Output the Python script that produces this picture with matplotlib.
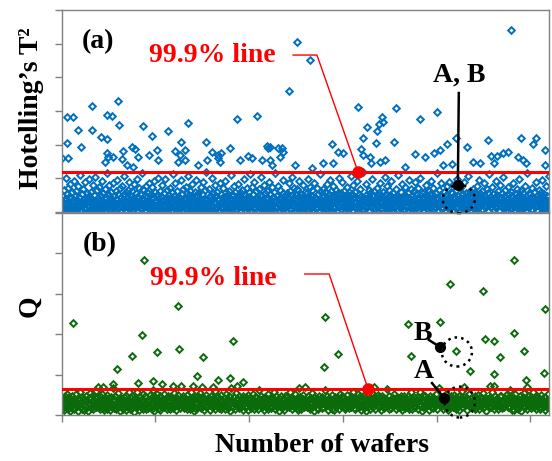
#!/usr/bin/env python3
"""Hotelling's T2 and Q charts per wafer, with 99.9% control limits."""

import numpy as np
import matplotlib

matplotlib.use("Agg")
import matplotlib.pyplot as plt
from matplotlib.patches import Ellipse

plt.rcParams["font.family"] = ["Liberation Serif", "DejaVu Serif"]
plt.rcParams["font.weight"] = "bold"

N_WAFERS = 2600
T2_LIMIT = 120
Q_LIMIT = 64

# bulk of the T2 values, in wafer order (evenly spaced over all wafers)
T2_BAND = [
    12, 34, 5, 47, 66, 21, 9, 38, 101, 27, 15, 52, 3, 71, 44, 18, 30, 84, 7, 25,
    41, 16, 58, 2, 29, 36, 93, 11, 48, 23, 62, 8, 19, 33, 77, 45, 14, 6, 110, 27,
    31, 4, 53, 20, 69, 13, 40, 26, 88, 10, 37, 1, 57, 22, 46, 17, 98, 35, 9, 43,
    24, 60, 15, 39, 7, 81, 28, 50, 12, 104, 33, 19, 2, 64, 42, 26, 11, 74, 36, 5,
    49, 18, 30, 92, 8, 55, 21, 14, 67, 38, 3, 45, 27, 115, 16, 52, 10, 79, 32, 23,
    6, 41, 59, 17, 35, 12, 86, 29, 47, 4, 22, 63, 39, 9, 95, 26, 54, 14, 31, 72,
    20, 44, 1, 37, 76, 25, 13, 51, 108, 34, 18, 58, 7, 43, 28, 65, 11, 36, 90, 15,
    39, 8, 48, 24, 61, 16, 33, 5, 83, 42, 27, 12, 56, 19, 99, 30, 2, 46, 70, 21,
    13, 52, 28, 9, 40, 117, 23, 68, 35, 15, 49, 4, 31, 78, 20, 44, 11, 57, 26, 87,
    32, 17, 6, 54, 25, 74, 38, 14, 45, 3, 91, 29, 60, 10, 36, 22, 50, 102, 18, 41,
    27, 63, 12, 47, 8, 33, 80, 21, 5, 55, 39, 16, 97, 30, 2, 43, 66, 24, 14, 51,
    10, 36, 71, 19, 44, 28, 3, 59, 113, 34, 17, 48, 25, 85, 7, 40, 22, 62, 31, 13,
    46, 23, 9, 38, 94, 15, 53, 29, 1, 67, 42, 20, 35, 11, 75, 27, 56, 6, 106, 33,
    18, 50, 37, 4, 61, 26, 14, 82, 45, 30, 8, 39, 21, 58, 16, 96, 34, 12, 47, 24,
    57, 7, 29, 43, 19, 73, 35, 10, 52, 2, 89, 31, 15, 64, 40, 25, 118, 9, 37, 20,
    28, 45, 13, 68, 34, 6, 48, 22, 100, 17, 41, 55, 3, 30, 79, 11, 26, 49, 14, 60,
    35, 21, 5, 40, 86, 27, 16, 54, 32, 9, 46, 70, 23, 1, 38, 93, 19, 44, 12, 29,
    8, 53, 31, 17, 63, 42, 24, 109, 11, 36, 4, 50, 28, 77, 15, 33, 58, 22, 6, 47,
    26, 39, 84, 14, 48, 2, 30, 57, 20, 41, 66, 12, 35, 97, 25, 7, 51, 18, 43, 72,
    16, 33, 10, 59, 23, 45, 112, 29, 5, 38, 75, 21, 13, 52, 34, 88, 9, 27, 61, 40,
    44, 3, 25, 37, 69, 18, 50, 11, 31, 103, 22, 47, 6, 36, 81, 15, 28, 55, 2, 39,
    21, 62, 14, 42, 30, 8, 90, 26, 53, 17, 35, 74, 10, 46, 24, 1, 58, 33, 116, 19,
    37, 12, 49, 27, 78, 5, 40, 23, 65, 15, 44, 29, 9, 56, 95, 32, 20, 48, 13, 34,
    4, 57, 30, 18, 45, 87, 25, 38, 11, 62, 28, 7, 51, 105, 22, 41, 16, 70, 36, 3,
    50, 24, 68, 13, 35, 20, 47, 92, 8, 31, 54, 17, 43, 26, 79, 10, 39, 2, 60, 29,
    15, 42, 6, 55, 32, 99, 19, 46, 27, 73, 38, 12, 23, 64, 48, 5, 34, 85, 21, 44,
    30, 9, 40, 71, 16, 52, 28, 1, 37, 114, 25, 58, 14, 45, 20, 67, 33, 11, 49, 26,
    59, 36, 22, 10, 82, 43, 17, 53, 31, 7, 94, 39, 24, 61, 3, 47, 29, 76, 18, 35,
    12, 48, 66, 27, 4, 38, 21, 57, 101, 16, 44, 30, 9, 55, 26, 89, 41, 14, 33, 63,
    23, 46, 11, 34, 75, 19, 50, 6, 42, 28, 60, 15, 37, 107, 24, 52, 2, 39, 80, 17,
    45, 28, 58, 13, 31, 92, 22, 40, 8, 54, 35, 18, 69, 27, 47, 10, 36, 119, 21, 43,
    7, 33, 19, 51, 84, 26, 14, 45, 30, 65, 3, 41, 24, 57, 16, 38, 98, 29, 11, 50,
    34, 62, 25, 9, 43, 17, 72, 36, 20, 48, 1, 55, 31, 86, 13, 44, 27, 6, 60, 38,
    19, 40, 104, 28, 53, 12, 35, 77, 23, 46, 15, 32, 64, 8, 50, 21, 91, 39, 26, 4,
    56, 14, 30, 45, 22, 68, 37, 5, 49, 27, 111, 18, 42, 33, 11, 59, 25, 83, 16, 36,
    29, 51, 8, 39, 74, 20, 47, 15, 34, 2, 57, 26, 95, 41, 13, 30, 67, 22, 48, 10,
    40, 17, 63, 24, 36, 88, 11, 52, 28, 43, 19, 71, 6, 38, 25, 102, 33, 14, 55, 30,
    3, 44, 27, 58, 15, 32, 49, 79, 21, 37, 9, 46, 61, 18, 34, 12, 54, 93, 26, 41,
    22, 35, 70, 10, 47, 28, 16, 56, 39, 117, 24, 7, 43, 31, 66, 20, 50, 13, 85, 37,
    48, 26, 13, 42, 60, 33, 4, 51, 23, 76, 38, 17, 29, 90, 45, 9, 36, 21, 59, 14,
    31, 55, 20, 6, 38, 81, 27, 44, 12, 65, 35, 99, 16, 49, 24, 3, 41, 72, 30, 18,
    11, 39, 52, 25, 88, 14, 46, 34, 21, 57, 8, 37, 108, 23, 53, 28, 15, 63, 42, 5,
    47, 20, 33, 69, 18, 40, 10, 58, 30, 1, 50, 25, 78, 36, 13, 45, 96, 27, 19, 54,
    26, 62, 9, 43, 32, 17, 85, 48, 22, 39, 14, 67, 28, 4, 55, 35, 20, 113, 44, 31,
    16, 45, 37, 74, 24, 53, 7, 30, 41, 19, 91, 12, 50, 33, 61, 25, 2, 46, 38, 80,
    42, 28, 15, 56, 103, 35, 21, 49, 11, 64, 27, 44, 6, 38, 18, 73, 32, 52, 23, 9,
    34, 59, 24, 13, 47, 29, 87, 40, 17, 5, 36, 54, 22, 68, 45, 10, 31, 97, 20, 50,
    8, 41, 66, 32, 19, 55, 26, 12, 43, 78, 37, 2, 48, 24, 115, 30, 16, 57, 39, 27,
    53, 18, 35, 46, 10, 71, 23, 42, 29, 60, 14, 33, 89, 21, 49, 6, 38, 26, 65, 44,
    25, 36, 12, 58, 94, 20, 45, 31, 7, 52, 40, 17, 76, 28, 3, 47, 34, 15, 106, 22,
]

# (wafer, T2) for the points standing above the bulk
T2_OUTLIERS = [
    (3, 161), (35, 161), (29, 206), (29, 281), (61, 281), (88, 245), (104, 194), (163, 316), (163, 245), (211, 224),
    (243, 218), (243, 287), (270, 284), (302, 331), (307, 257), (243, 176), (248, 164), (275, 164), (232, 149), (323, 158),
    (328, 182), (376, 194), (392, 188), (408, 164), (350, 140), (382, 134), (435, 254), (467, 170), (483, 227), (510, 185),
    (515, 155), (569, 242), (606, 182), (659, 185), (633, 170), (659, 155), (622, 149), (638, 209), (675, 263), (729, 140),
    (771, 209), (803, 179), (836, 170), (846, 149), (777, 155), (852, 176), (900, 191), (836, 161), (937, 275), (1044, 284),
    (953, 155), (996, 167), (1017, 161), (1071, 155), (1113, 155), (1124, 140), (1097, 197), (1103, 191), (1156, 191), (1177, 191),
    (1167, 164), (1215, 358), (1257, 504), (1327, 451), (1247, 140), (1338, 131), (1396, 146), (1444, 203), (1476, 179), (1503, 176),
    (1450, 146), (1583, 313), (1599, 188), (1610, 221), (1610, 170), (1631, 251), (1647, 164), (1679, 206), (1685, 242), (1695, 260),
    (1711, 281), (1717, 266), (1701, 149), (1727, 155), (1653, 146), (1775, 209), (1786, 310), (1834, 134), (1887, 173), (1914, 275),
    (1941, 164), (1989, 176), (2000, 296), (2021, 185), (2032, 140), (2058, 203), (2085, 143), (2106, 221), (2165, 194), (2197, 149),
    (2234, 146), (2272, 215), (2288, 167), (2304, 146), (2325, 167), (2352, 176), (2379, 179), (2395, 540), (2437, 164), (2453, 221),
    (2459, 155), (2475, 146), (2517, 203), (2533, 221), (2581, 185), (2581, 140), (1113, 194), (1183, 179),
]

# bulk of the Q values, in wafer order
Q_BAND = [
    23, 41, 17, 35, 12, 48, 29, 38, 20, 53, 15, 32, 44, 26, 9, 37, 21, 46, 30, 18,
    39, 14, 27, 51, 33, 22, 43, 11, 36, 25, 57, 19, 31, 45, 16, 28, 40, 13, 34, 24,
    47, 20, 37, 10, 30, 42, 26, 55, 17, 33, 23, 49, 14, 38, 28, 44, 21, 60, 31, 19,
    27, 36, 15, 46, 24, 32, 52, 18, 40, 12, 29, 35, 22, 43, 16, 50, 25, 34, 41, 13,
    33, 45, 21, 28, 68, 17, 39, 26, 47, 14, 31, 23, 54, 19, 37, 30, 11, 42, 24, 36,
    16, 29, 44, 22, 35, 13, 48, 27, 38, 20, 58, 32, 15, 41, 25, 46, 18, 34, 8, 39,
    42, 24, 31, 56, 19, 37, 28, 12, 45, 33, 21, 40, 27, 51, 16, 35, 23, 47, 30, 14,
    26, 38, 17, 34, 49, 22, 43, 30, 15, 62, 28, 36, 11, 44, 20, 32, 53, 25, 39, 18,
    35, 13, 46, 27, 21, 40, 33, 19, 52, 24, 37, 29, 42, 16, 48, 23, 31, 14, 45, 28,
    20, 41, 30, 17, 55, 26, 35, 44, 12, 38, 22, 50, 27, 33, 18, 72, 29, 39, 24, 47,
    31, 18, 43, 25, 36, 14, 49, 29, 22, 40, 34, 16, 57, 26, 41, 20, 37, 10, 30, 45,
    15, 33, 27, 48, 21, 39, 24, 54, 32, 17, 44, 28, 36, 13, 42, 25, 50, 19, 35, 23,
    43, 26, 37, 12, 30, 46, 19, 34, 41, 23, 28, 59, 15, 38, 31, 22, 45, 27, 17, 40,
    24, 49, 16, 35, 27, 20, 43, 31, 14, 52, 36, 25, 40, 18, 33, 47, 11, 29, 66, 37,
    38, 21, 32, 44, 15, 28, 55, 23, 39, 30, 17, 46, 26, 35, 20, 41, 33, 13, 48, 27,
    19, 36, 45, 22, 31, 50, 13, 37, 25, 42, 29, 18, 34, 53, 24, 38, 16, 44, 30, 21,
    34, 27, 14, 40, 61, 24, 33, 47, 20, 28, 43, 36, 12, 30, 45, 19, 39, 26, 52, 16,
    29, 43, 22, 37, 18, 34, 26, 41, 56, 15, 32, 24, 47, 21, 35, 28, 9, 42, 33, 25,
    46, 17, 30, 25, 39, 12, 48, 22, 35, 44, 27, 38, 19, 31, 58, 23, 41, 14, 36, 29,
    22, 40, 35, 51, 26, 43, 18, 30, 13, 37, 24, 45, 32, 16, 28, 39, 49, 20, 27, 70,
    37, 28, 19, 33, 46, 21, 39, 15, 42, 27, 54, 20, 36, 44, 11, 32, 25, 38, 17, 43,
    14, 31, 48, 24, 36, 29, 17, 45, 33, 20, 40, 26, 61, 35, 22, 47, 30, 13, 41, 28,
    40, 23, 34, 16, 50, 38, 27, 12, 44, 31, 19, 37, 25, 42, 29, 15, 53, 34, 22, 46,
    25, 45, 30, 41, 20, 14, 36, 49, 23, 38, 32, 17, 43, 26, 37, 21, 44, 28, 57, 18,
    33, 16, 42, 27, 35, 24, 51, 19, 30, 46, 13, 39, 22, 34, 48, 26, 18, 40, 31, 10,
    28, 39, 21, 47, 30, 43, 15, 37, 26, 55, 33, 21, 45, 29, 16, 36, 42, 24, 35, 50,
    44, 20, 36, 13, 29, 38, 48, 25, 41, 18, 34, 27, 39, 64, 23, 31, 15, 46, 26, 37,
    17, 34, 26, 43, 22, 52, 31, 40, 14, 36, 45, 20, 30, 24, 41, 35, 19, 48, 12, 33,
    36, 48, 29, 18, 40, 25, 35, 21, 47, 30, 16, 42, 33, 56, 27, 14, 38, 23, 44, 31,
    21, 30, 45, 37, 16, 33, 24, 58, 28, 42, 35, 11, 49, 19, 32, 46, 26, 39, 22, 43,
    41, 25, 13, 34, 47, 20, 39, 31, 17, 44, 26, 36, 22, 51, 30, 38, 15, 27, 68, 35,
    27, 42, 33, 22, 38, 29, 14, 46, 35, 24, 53, 18, 40, 28, 12, 43, 32, 21, 37, 48,
    32, 19, 40, 50, 25, 35, 44, 16, 30, 39, 23, 47, 13, 34, 26, 42, 60, 20, 29, 36,
    45, 28, 24, 31, 12, 42, 27, 37, 53, 21, 33, 26, 44, 17, 38, 23, 35, 48, 15, 40,
    18, 37, 49, 26, 34, 16, 45, 23, 32, 41, 28, 55, 20, 36, 43, 30, 9, 39, 25, 33,
    39, 22, 31, 44, 19, 58, 29, 35, 25, 14, 47, 32, 38, 24, 41, 16, 34, 27, 46, 21,
    24, 46, 17, 38, 29, 33, 21, 42, 50, 27, 36, 19, 31, 45, 22, 63, 28, 37, 13, 41,
    35, 13, 43, 28, 52, 20, 40, 30, 16, 37, 24, 48, 33, 11, 39, 26, 44, 31, 54, 19,
    30, 41, 26, 15, 36, 47, 23, 34, 43, 18, 31, 39, 25, 57, 20, 42, 29, 16, 35, 47,
    42, 27, 38, 21, 33, 16, 49, 25, 40, 29, 35, 22, 44, 12, 30, 37, 19, 51, 26, 32,
]

# (wafer, Q) for the points standing above the bulk
Q_OUTLIERS = [
    (61, 228), (440, 384), (622, 270), (430, 198), (916, 183), (510, 156), (627, 163), (376, 146), (755, 144), (296, 114),
    (723, 97), (900, 92), (836, 87), (969, 82), (489, 84), (537, 77), (408, 79), (275, 77), (195, 69), (222, 69),
    (595, 72), (702, 72), (750, 69), (809, 69), (937, 72), (2411, 384), (2074, 324), (2250, 307), (2576, 262), (1407, 243),
    (1850, 225), (2016, 230), (2411, 203), (2261, 188), (2304, 183), (2106, 158), (1476, 151), (1866, 146), (2336, 144), (2469, 158),
    (1402, 119), (2176, 109), (2309, 101), (2571, 104), (2475, 87), (1268, 67), (1669, 69), (2144, 69), (2283, 72), (2304, 72),
    (2485, 69),
]

BLUE = "#0070C0"
GREEN = "#0B6B0B"
RED = "#FF0000"
GRAY = "#808080"
FS = 20
W, H = 552, 461


def draw_panel(ax, band, outliers, color, limit, ymax):
    xs = np.linspace(1, N_WAFERS, len(band))
    ox, oy = zip(*outliers)
    style = dict(marker="D", linestyle="none", markersize=3.4, markeredgewidth=1.4,
                 markerfacecolor="none", markeredgecolor=color)
    ax.plot(xs, band, **style)
    ax.plot(ox, oy, **style)
    ax.axhline(limit, color=RED, linewidth=2.2, zorder=3)
    ax.set_xlim(0, N_WAFERS)
    ax.set_ylim(0, ymax)
    ax.set_yticks(np.arange(0, ymax + 1, 100))
    ax.set_xticks(np.arange(0, N_WAFERS, 500))
    ax.tick_params(labelleft=False, labelbottom=False, color=GRAY, length=5, width=1, direction="out")
    for spine in ax.spines.values():
        spine.set_color(GRAY)
        spine.set_linewidth(1)


def limit_callout(ax, text_xy, leader_x, leader_y, dot_x, limit, ymax):
    ax.text(*text_xy, "99.9% line", transform=ax.transAxes, color=RED, fontsize=FS,
            ha="left", va="baseline")
    fy = limit / ymax
    ax.plot([leader_x[0], leader_x[1], dot_x], [leader_y, leader_y, fy], transform=ax.transAxes,
            color=RED, linewidth=1, zorder=4)
    ax.plot([dot_x], [fy], "o", transform=ax.transAxes, color=RED, markersize=8, zorder=5)


def point_callout(ax, label, text_xy, start, end, circle):
    ax.text(*text_xy, label, transform=ax.transAxes, fontsize=FS, ha="center", va="baseline")
    ax.plot([start[0], end[0]], [start[1], end[1]], transform=ax.transAxes, color="black",
            linewidth=1.8, zorder=5)
    ax.plot([end[0]], [end[1]], "o", transform=ax.transAxes, color="black", markersize=7, zorder=6)
    cx, cy, w, h = circle
    ax.add_patch(Ellipse((cx, cy), w, h, transform=ax.transAxes, fill=False, edgecolor="black",
                         linestyle=":", linewidth=1.8, clip_on=False, zorder=6))


def main():
    fig = plt.figure(figsize=(W / 100, H / 100), dpi=100)
    ax_a = fig.add_axes([61.5 / W, 1 - 212 / H, 487.5 / W, 202 / H])
    ax_b = fig.add_axes([61.5 / W, 1 - 415 / H, 487.5 / W, 202 / H])
    ax_b.patch.set_alpha(0)

    draw_panel(ax_a, T2_BAND, T2_OUTLIERS, BLUE, T2_LIMIT, 600)
    ax_a.tick_params(axis="x", length=0)
    draw_panel(ax_b, Q_BAND, Q_OUTLIERS, GREEN, Q_LIMIT, 500)

    ax_a.text(0.075, 0.844, "(a)", transform=ax_a.transAxes, fontsize=FS, ha="center", va="center")
    ax_b.text(0.079, 0.842, "(b)", transform=ax_b.transAxes, fontsize=FS, ha="center", va="center")

    limit_callout(ax_a, (0.179, 0.743), (0.475, 0.524), 0.777, 0.608, T2_LIMIT, 600)
    limit_callout(ax_b, (0.182, 0.644), (0.499, 0.549), 0.698, 0.629, Q_LIMIT, 500)

    point_callout(ax_a, "A, B", (0.815, 0.644), (0.815, 0.589), (0.813, 0.134), (0.815, 0.064, 0.066, 0.139))
    point_callout(ax_b, "B", (0.741, 0.371), (0.754, 0.371), (0.776, 0.337), (0.811, 0.312, 0.062, 0.144))
    point_callout(ax_b, "A", (0.744, 0.183), (0.760, 0.158), (0.785, 0.084), (0.817, 0.064, 0.062, 0.153))

    fig.text(32 / W, 1 - 108 / H, "Hotelling\u2019s T\u00b2", rotation=90, fontsize=FS, ha="center", va="center")
    fig.text(30 / W, 1 - 306 / H, "Q", rotation=90, fontsize=FS, ha="center", va="center")
    fig.text(322 / W, 1 - 452 / H, "Number of wafers", fontsize=FS, ha="center", va="baseline")

    fig.savefig("out.png", dpi=100)


if __name__ == "__main__":
    main()
